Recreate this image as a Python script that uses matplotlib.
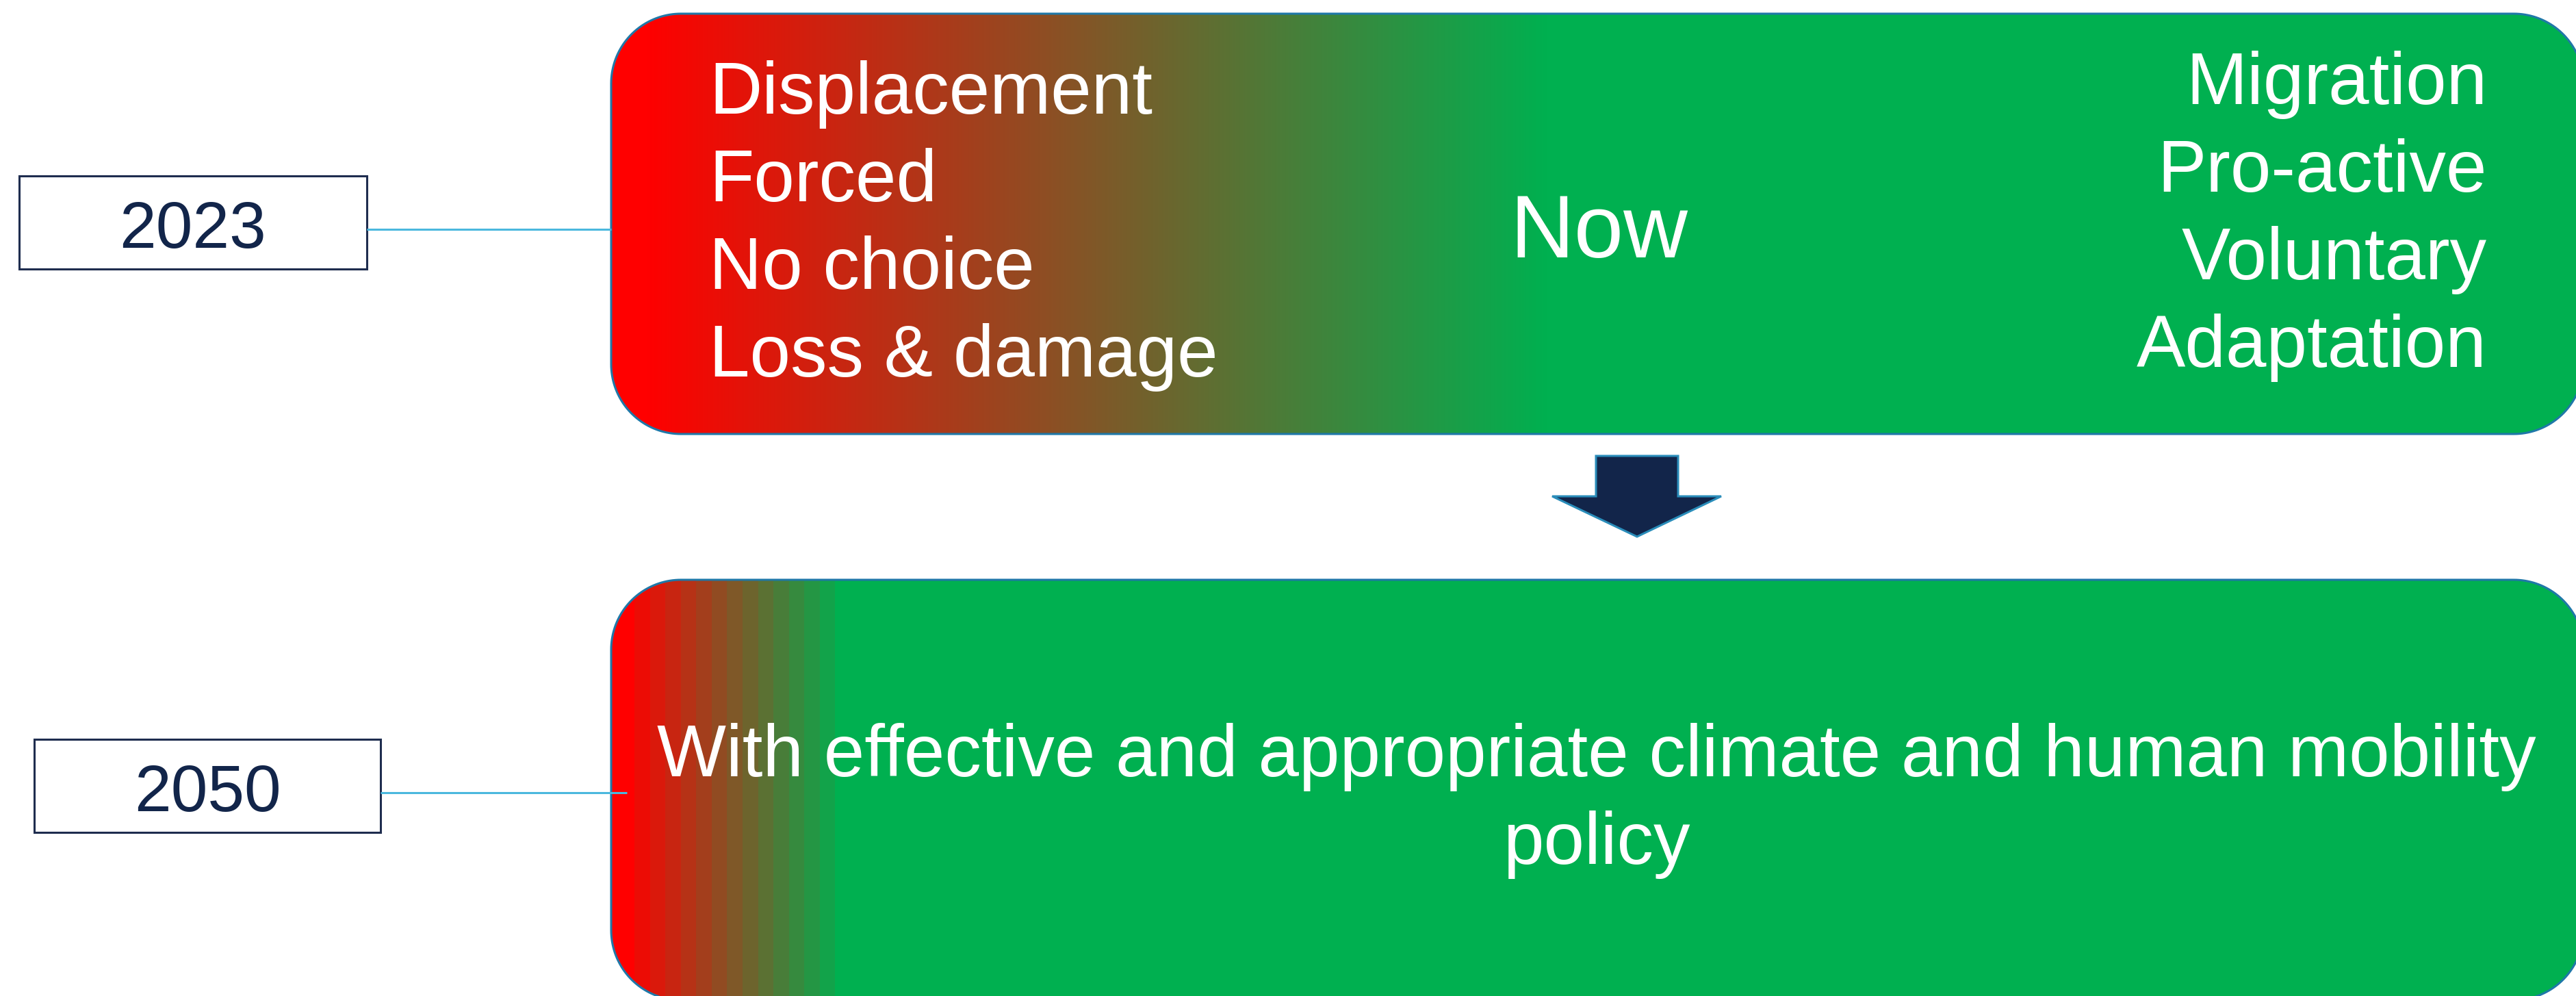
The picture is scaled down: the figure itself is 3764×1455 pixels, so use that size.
import numpy as np
import matplotlib
matplotlib.use("Agg")
import matplotlib.pyplot as plt
from matplotlib.patches import Rectangle, Polygon
from matplotlib.colors import to_rgb

# ---- content ----
years = ["2023", "2050"]
left_terms = ["Displacement", "Forced", "No choice", "Loss & damage"]
right_terms = ["Migration", "Pro-active", "Voluntary", "Adaptation"]
center_label = "Now"
future_text = ["With effective and appropriate climate and human mobility", "policy"]

RED = "#FF0000"
GREEN = "#00B050"
NAVY = "#12254A"
EDGE = "#1F78A8"
CONN = "#4BB8DE"
FONT = "Liberation Sans"

W, H = 3764, 1455
fig = plt.figure(figsize=(W / 100, H / 100), dpi=100)
ax = fig.add_axes([0, 0, 1, 1])
ax.set_xlim(0, W)
ax.set_ylim(H, 0)
ax.axis("off")

r0, g0 = np.array(to_rgb(RED)), np.array(to_rgb(GREEN))


def rounded_rect_pts(x0, y0, x1, y1, r, n=40):
    pts = []
    corners = [((x1 - r, y0 + r), -90, 0),   # top-right (y down)
               ((x1 - r, y1 - r), 0, 90),    # bottom-right
               ((x0 + r, y1 - r), 90, 180),  # bottom-left
               ((x0 + r, y0 + r), 180, 270)]  # top-left
    for (cx, cy), a0, a1 in corners:
        a = np.radians(np.linspace(a0, a1, n))
        pts.extend(zip(cx + r * np.cos(a), cy + r * np.sin(a)))
    return pts


def grad_image(x0, x1, xs, xe, steps=None):
    xs_arr = np.arange(x0, x1) + 0.5
    t = np.clip((xs_arr - xs) / (xe - xs), 0, 1)
    if steps:
        t = np.ceil(t * steps) / steps
    cols = r0[None, :] * (1 - t[:, None]) + g0[None, :] * t[:, None]
    return cols[None, :, :]


def gradient_box(x0, y0, x1, y1, xs, xe, steps=None):
    pts = rounded_rect_pts(x0, y0, x1, y1, 102)
    patch = Polygon(pts, closed=True, facecolor="none", edgecolor=EDGE,
                    linewidth=2.2, zorder=3)
    ax.add_patch(patch)
    img = grad_image(x0, x1, xs, xe, steps)
    im = ax.imshow(img, extent=[x0, x1, y1, y0], aspect="auto", zorder=2,
                   interpolation="nearest")
    im.set_clip_path(patch)


# top box (smooth gradient)
gradient_box(893, 20, 3775, 634, 945, 2260)
# bottom box (banded gradient)
gradient_box(893, 847, 3775, 1461, 927, 1243, steps=14)

# year boxes and connectors
year_boxes = [(28, 257, 536, 393), (50, 1080, 556, 1216)]
conn_y = [335, 1158]
conn_end = [893, 916]
baselines_year = [362, 1185]
for (x0, y0, x1, y1), yr, cy, ce, bl in zip(year_boxes, years, conn_y, conn_end, baselines_year):
    ax.add_patch(Rectangle((x0, y0), x1 - x0, y1 - y0, facecolor="white",
                           edgecolor="#1F2D4F", linewidth=2.2, zorder=4))
    ax.plot([x1, ce], [cy, cy], color=CONN, linewidth=2.2, zorder=5,
            solid_capstyle="butt")
    ax.text((x0 + x1) / 2, bl, yr, ha="center", va="baseline", fontsize=69.5,
            color=NAVY, family=FONT, zorder=6)

# left list
for i, t in enumerate(left_terms):
    ax.text(1036, 166 + 128 * i, t, ha="left", va="baseline", fontsize=77,
            color="white", family=FONT, zorder=6)
# right list
for i, t in enumerate(right_terms):
    ax.text(3634, 152 + 128 * i, t, ha="right", va="baseline", fontsize=77,
            color="white", family=FONT, zorder=6)

ax.text(2336, 376, center_label, ha="center", va="baseline", fontsize=93.5,
        color="white", family=FONT, zorder=6)

for i, t in enumerate(future_text):
    ax.text(2333, 1134 + 128 * i, t, ha="center", va="baseline", fontsize=77,
            color="white", family=FONT, zorder=6)

# down arrow
arrow_pts = [(2332, 666), (2452, 666), (2452, 725), (2515, 725),
             (2392, 784), (2268, 725), (2332, 725)]
ax.add_patch(Polygon(arrow_pts, closed=True, facecolor=NAVY, edgecolor="#2A8DBA",
                     linewidth=2.2, zorder=4))

fig.savefig("out.png", dpi=100, facecolor="white")
